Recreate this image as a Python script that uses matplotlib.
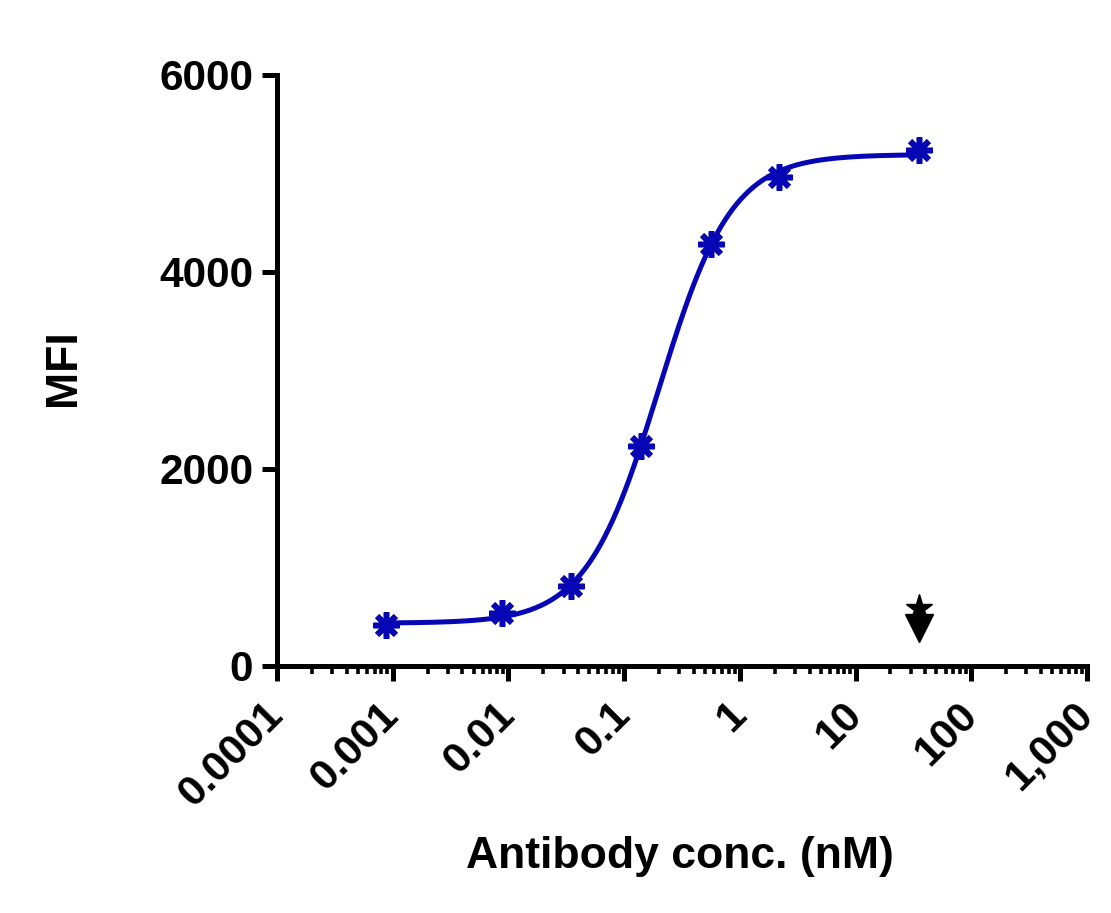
import numpy as np
import matplotlib.pyplot as plt
from matplotlib.ticker import FixedLocator, FixedFormatter, LogLocator, NullFormatter

plt.rcParams['font.family'] = ['Liberation Sans', 'DejaVu Sans']
plt.rcParams['font.weight'] = 'bold'

# data
conc = np.array([0.00088, 0.0088, 0.035, 0.14, 0.56, 2.2, 35.0])
mfi = np.array([416, 538, 812, 2234, 4284, 4964, 5239])

flag_x = [35.0]
flag_arrow_y = [385]
flag_star_y = [585]

xtick_vals = [1e-4, 1e-3, 1e-2, 1e-1, 1, 10, 100, 1000]
xtick_labels = ["0.0001", "0.001", "0.01", "0.1", "1", "10", "100", "1,000"]
ytick_vals = [0, 2000, 4000, 6000]

blue = '#0606b4'


def fit_4pl(x, y):
    lx = np.log10(x)
    best = None
    for lec in np.linspace(-2, 1, 301):
        for h in np.linspace(0.5, 3, 126):
            s = 1.0 / (1.0 + 10 ** ((lec - lx) * h))
            A = np.column_stack([np.ones_like(s), s])
            coef, *_ = np.linalg.lstsq(A, y, rcond=None)
            sse = np.sum((A @ coef - y) ** 2)
            if best is None or sse < best[0]:
                best = (sse, coef[0], coef[0] + coef[1], lec, h)
    return best[1:]


bottom, top, lec, hill = fit_4pl(conc, mfi)
xs = np.logspace(np.log10(conc.min()), np.log10(conc.max()), 400)
ys = bottom + (top - bottom) / (1 + 10 ** ((lec - np.log10(xs)) * hill))

fig = plt.figure(figsize=(11.11, 9.13), dpi=100)
ax = fig.add_axes([0.2493, 0.2706, 0.7291, 0.6473])

ax.plot(xs, ys, color=blue, lw=3.6, zorder=2)
ax.plot(conc, mfi, linestyle='none', marker=(8, 2, 0), markersize=19,
        markeredgewidth=4, color=blue, zorder=3)
ax.plot(flag_x, flag_arrow_y, linestyle='none', marker='v', markersize=20,
        color='black', zorder=4)
ax.plot(flag_x, flag_star_y, linestyle='none', marker='*', markersize=20,
        color='black', zorder=4)

ax.set_xscale('log')
ax.set_xlim(1e-4, 1e3)
ax.set_ylim(0, 6000)

ax.xaxis.set_major_locator(FixedLocator(xtick_vals))
ax.xaxis.set_major_formatter(FixedFormatter(xtick_labels))
ax.xaxis.set_minor_locator(LogLocator(base=10, subs=np.arange(2, 10), numticks=20))
ax.xaxis.set_minor_formatter(NullFormatter())
ax.yaxis.set_major_locator(FixedLocator(ytick_vals))

for side in ['top', 'right']:
    ax.spines[side].set_visible(False)
for side in ['left', 'bottom']:
    ax.spines[side].set_linewidth(3.6)

ax.tick_params(axis='both', which='major', length=11, width=3.6, labelsize=30.5, pad=6)
ax.tick_params(axis='x', which='minor', length=6, width=2.6)
ax.tick_params(axis='x', which='major', pad=20)

for lab in ax.get_xticklabels():
    lab.set_rotation(45)
    lab.set_ha('right')
    lab.set_va('center')
    lab.set_rotation_mode('anchor')
    lab.set_fontweight('bold')
for lab in ax.get_yticklabels():
    lab.set_fontweight('bold')

ax.set_xlabel("Antibody conc. (nM)", fontsize=32, fontweight='bold')
ax.set_ylabel("MFI", fontsize=32, fontweight='bold')
ax.xaxis.set_label_coords(0.4975, -0.2877)
ax.yaxis.set_label_coords(-0.238, 0.504)

fig.savefig('out.png', dpi=100)
